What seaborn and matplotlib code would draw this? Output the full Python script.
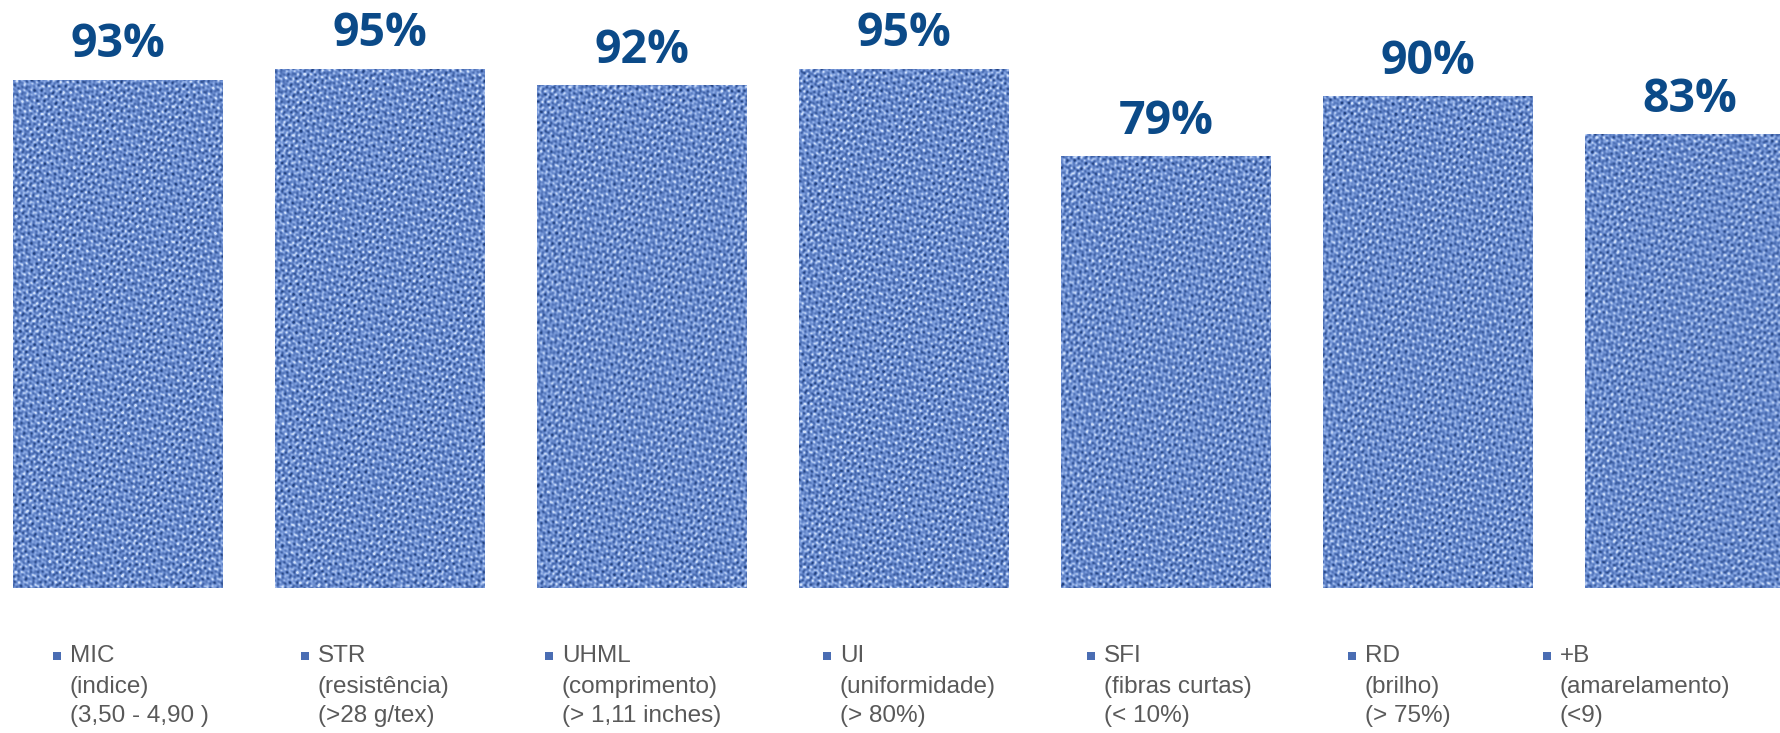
import numpy as np
import seaborn as sns
import matplotlib.pyplot as plt
from matplotlib.colors import LinearSegmentedColormap
from matplotlib.patches import Rectangle

# cotton quality indicators: share of samples within spec
metrics = ["MIC", "STR", "UHML", "UI", "SFI", "RD", "+B"]
descriptions = ["(indice)", "(resistência)", "(comprimento)", "(uniformidade)",
                "(fibras curtas)", "(brilho)", "(amarelamento)"]
limits = ["(3,50 - 4,90 )", "(>28 g/tex)", "(> 1,11 inches)", "(> 80%)",
          "(< 10%)", "(> 75%)", "(<9)"]
percent_ok = [93, 95, 92, 95, 79, 90, 83]

W, H = 1781, 733
sns.set_style("white")
plt.rcParams["font.family"] = ["Liberation Sans", "DejaVu Sans"]

fig = plt.figure(figsize=(W / 100, H / 100), dpi=100)
ax = fig.add_axes([0, 145 / H, 1, 588 / H])

sns.barplot(x=metrics, y=percent_ok, color="#6283c5", saturation=1,
            width=0.8, ax=ax)

unit = 262.0
ppu_y = 5.46
xmin = -0.4 - 13 / unit

# woven cloth look for the bars (fixed sum of waves, no randomness)
cloth = LinearSegmentedColormap.from_list(
    "cloth", ["#22417e", "#4d70b6", "#7d9edd", "#d2e2fb"])
waves = [(0.97, 0.22, 6.1, 0.7, 0.12), (-0.18, 0.98, 5.3, 2.1, 0.12),
         (0.72, -0.69, 4.7, 1.3, 0.08), (0.21, 0.98, 8.9, 0.4, 0.10),
         (0.99, -0.12, 3.9, 2.7, 0.09), (0.55, 0.83, 3.4, 1.9, 0.07),
         (-0.85, 0.52, 7.7, 0.2, 0.08)]


def cloth_texture(xx, yy):
    t = 0.53 + 0.18 * np.cos(2 * np.pi * xx / 7.3) * np.cos(2 * np.pi * yy / 7.1)
    for kx, ky, per, ph, amp in waves:
        t = t + amp * np.sin(2 * np.pi * (kx * xx + ky * yy) / per + ph)
    return t


for p in list(ax.patches):
    x0, w, h = p.get_x(), p.get_width(), p.get_height()
    nx = int(round(w * unit))
    ny = int(round(h * ppu_y))
    xx, yy = np.meshgrid(np.arange(nx) + x0 * unit, np.arange(ny) + 3.0 * x0)
    ax.imshow(cloth_texture(xx, yy), extent=(x0, x0 + w, 0, h),
              origin="lower", cmap=cloth, vmin=0.0, vmax=1.0, aspect="auto",
              interpolation="bilinear", zorder=3)
    ax.annotate(f"{int(round(h))}%", xy=(x0 + w / 2, h), xytext=(0, 16.5),
                textcoords="offset points", ha="center", va="baseline",
                fontsize=33.5, fontweight="bold", color="#0b4a88",
                family=["Open Sans", "DejaVu Sans"], zorder=4)

ax.set_xlim(xmin, xmin + W / unit)
ax.set_ylim(0, 588 / ppu_y)
ax.axis("off")

# legend block under the bars
leg_x = [70, 318, 562, 840, 1104, 1365, 1560]
line_y = [656, 687, 716]
for i, name in enumerate(metrics):
    tx = leg_x[i]
    fig.add_artist(Rectangle(((tx - 17) / W, 1 - (line_y[0] + 4) / H),
                             8 / W, 8 / H, transform=fig.transFigure,
                             facecolor="#4a6db3", edgecolor="none"))
    for row, txt in enumerate([name, descriptions[i], limits[i]]):
        fig.text(tx / W, 1 - line_y[row] / H, txt, ha="left", va="center",
                 fontsize=17.5, color="#595959")

fig.savefig("out.png", dpi=100)
